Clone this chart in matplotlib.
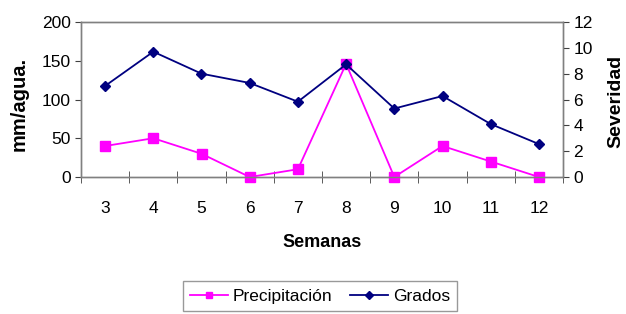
import matplotlib.pyplot as plt
import numpy as np

plt.rcParams['font.family'] = ['Liberation Sans', 'DejaVu Sans']

semanas = [3, 4, 5, 6, 7, 8, 9, 10, 11, 12]
precipitacion = [40, 50, 30, 0, 10, 146, 0, 40, 20, 0]
grados = [7.05, 9.7, 8.0, 7.28, 5.83, 8.72, 5.3, 6.27, 4.1, 2.55]

fig = plt.figure(figsize=(6.26, 3.14), dpi=100)
ax = fig.add_axes([81/626, 1 - 177/314, (563-81)/626, (177-22)/314])
ax2 = ax.twinx()

x = np.arange(len(semanas))
l1, = ax.plot(x, precipitacion, color='#ff00ff', marker='s', markersize=6.5, lw=1.3,
              label='Precipitación', clip_on=False, zorder=3)
l2, = ax2.plot(x, grados, color='#000080', marker='D', markersize=5.5, lw=1.3,
               label='Grados', clip_on=False, zorder=3)

ax.set_xlim(-0.5, len(semanas) - 0.5)
ax.set_ylim(0, 200)
ax2.set_ylim(0, 12)
ax.set_yticks([0, 50, 100, 150, 200])
ax2.set_yticks([0, 2, 4, 6, 8, 10, 12])
ax.set_xticks(x)
ax.set_xticklabels(semanas)
ax.set_xticks(np.arange(len(semanas) + 1) - 0.5, minor=True)
ax.tick_params(axis='x', which='major', length=0, pad=17, labelsize=12.5)
ax.tick_params(axis='x', which='minor', direction='inout', length=9, color='#404040')
ax.tick_params(axis='y', length=4, labelsize=12.5, color='#404040')
ax2.tick_params(axis='y', length=4, labelsize=12.5, color='#404040')

for a in (ax, ax2):
    for s in a.spines.values():
        s.set_color('#808080')
        s.set_linewidth(1.0)

ax.set_xlabel('Semanas', fontsize=13, fontweight='bold', labelpad=13)
ax.set_ylabel('mm/agua.', fontsize=14.5, fontweight='bold')
ax2.set_ylabel('Severidad', fontsize=14, fontweight='bold')
ax.yaxis.set_label_coords(-0.108, 0.47)
ax2.yaxis.set_label_coords(1.093, 0.49)

leg = fig.legend(handles=[l1, l2], loc='center', bbox_to_anchor=(320/626, 1 - 296/314),
                 ncol=2, frameon=True, fancybox=False, fontsize=12.5, handlelength=2.2,
                 columnspacing=1.0, handletextpad=0.3, borderpad=0.4, markerscale=0.75)
leg.get_frame().set_edgecolor('#808080')
leg.get_frame().set_linewidth(1.0)

fig.savefig('out.png', dpi=100)
